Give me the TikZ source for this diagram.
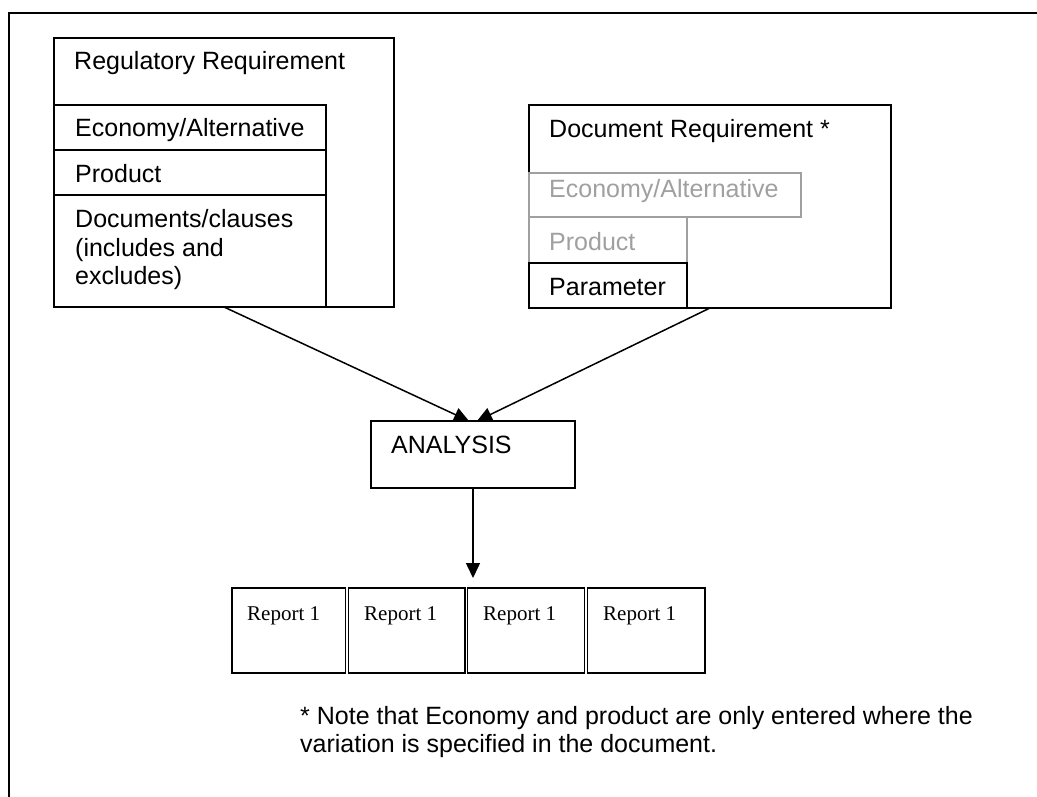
\documentclass[tikz,border=0pt]{standalone}
\usepackage{fontspec}
\setmainfont{Liberation Sans}
\newfontfamily\tnr{Liberation Serif}
\usetikzlibrary{arrows.meta,calc}
\definecolor{lightgr}{RGB}{160,160,160}
\tikzset{
  box/.style={draw, line width=1.8pt, fill=white, inner sep=0pt, outer sep=0pt, anchor=north west},
  graybox/.style={box, draw=lightgr},
  repbox/.style={box, line width=1.3pt},
  lbl/.style={inner sep=0pt, anchor=base west, font=\fontsize{25}{28}\selectfont},
  glbl/.style={lbl, text=lightgr},
  rlbl/.style={inner sep=0pt, anchor=base west, font=\tnr\fontsize{21}{24}\selectfont},
  conn/.style={line width=1.5pt, -{Triangle[length=15pt,width=14pt]}}
}
\begin{document}
\begin{tikzpicture}[x=1pt,y=-1pt]
\useasboundingbox (0,0) rectangle (1037,797);
% outer frame (runs off right and bottom)
\draw[line width=2.5pt] (1040,13) -- (9,13) -- (9,800);

% Regulatory Requirement
\node[box, minimum width=340pt, minimum height=269pt] (reg) at (54,38) {};
\node[box, minimum width=272pt, minimum height=45pt] (regecon) at (54,105) {};
\node[box, minimum width=272pt, minimum height=45pt] (regprod) at (54,150) {};
\node[box, minimum width=272pt, minimum height=112pt] (regdocs) at (54,195) {};
\node[lbl] (tReg) at (74,70) {Regulatory Requirement};
\node[lbl] (tRegEcon) at (75,137) {Economy/Alternative};
\node[lbl] (tRegProd) at (75,183) {Product};
\node[lbl] (tRegDocsA) at (75,228) {Documents/clauses};
\node[lbl] (tRegDocsB) at (75,256) {(includes and};
\node[lbl] (tRegDocsC) at (75,284) {excludes)};

% Document Requirement
\node[box, minimum width=362pt, minimum height=203pt] (doc) at (529,105) {};
\node[graybox, minimum width=272pt, minimum height=44pt] (docecon) at (529,173) {};
\node[graybox, minimum width=158pt, minimum height=46pt] (docprod) at (529,217) {};
\node[box, minimum width=158pt, minimum height=45pt] (docpar) at (529,263) {};
\node[lbl] (tDoc) at (549,138) {Document Requirement *};
\node[glbl] (tDocEcon) at (549,197) {Economy/Alternative};
\node[glbl] (tDocProd) at (549,251) {Product};
\node[lbl] (tDocPar) at (549,295) {Parameter};

% Analysis
\node[box, minimum width=204pt, minimum height=67pt] (ana) at (371,421) {};
\node[lbl] (tAna) at (391,453) {ANALYSIS};

% Reports
\node[repbox, minimum width=113.5pt, minimum height=85pt] (rep1) at (232,588) {};
\node[repbox, minimum width=116.5pt, minimum height=85pt] (rep2) at (348.5,588) {};
\node[repbox, minimum width=117pt, minimum height=85pt] (rep3) at (467.5,588) {};
\node[repbox, minimum width=117.5pt, minimum height=85pt] (rep4) at (587.5,588) {};
\node[rlbl] (tRep1) at (247,620) {Report 1};
\node[rlbl] (tRep2) at (364,620) {Report 1};
\node[rlbl] (tRep3) at (483,620) {Report 1};
\node[rlbl] (tRep4) at (603,620) {Report 1};

% Connectors
\coordinate (tipL) at ($(ana.north)+(-4,0)$);
\coordinate (tipR) at ($(ana.north)+(4,0)$);
\coordinate (tipD) at (473,578);
\draw[conn] (reg.south) -- (tipL);
\draw[conn] (doc.south) -- (tipR);
\draw[conn] (ana.south) -- (tipD);

% Note
\node[lbl] (noteA) at (300,724) {* Note that Economy and product are only entered where the};
\node[lbl] (noteB) at (300,752) {variation is specified in the document.};
\end{tikzpicture}
\end{document}
